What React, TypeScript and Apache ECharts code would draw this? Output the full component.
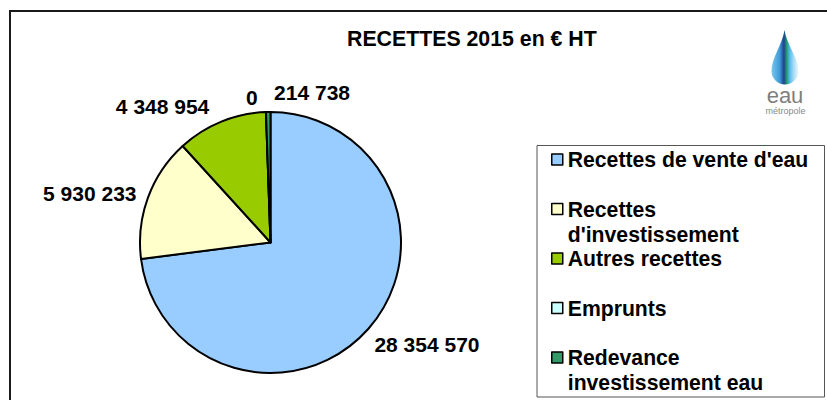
import React, { useEffect, useRef } from "react";
import * as echarts from "echarts";

const categories = [
  "Recettes de vente d'eau",
  "Recettes d'investissement",
  "Autres recettes",
  "Emprunts",
  "Redevance investissement eau",
];
const values = [28354570, 5930233, 4348954, 0, 214738];
const legendText = [
  "Recettes de vente d'eau",
  "Recettes\nd'investissement",
  "Autres recettes",
  "Emprunts",
  "Redevance\ninvestissement eau",
];
const colors = ["#99CCFF", "#FFFFCC", "#99CC00", "#CCFFFF", "#339966"];
const titleText = "RECETTES 2015 en € HT";

// label nudges (style only), per slice index
const labelNudge: { dx: number; dy: number; align?: string }[] = [
  { dx: -5, dy: 10 },
  { dx: 1, dy: -1 },
  { dx: -4, dy: -8 },
  { dx: -3, dy: -7 },
  { dx: 11, dy: -12, align: "left" },
];

const FONT = "'Liberation Sans', Arial, sans-serif";
const FS = 21;

const fmt = (v: number) => String(v).replace(/\B(?=(\d{3})+(?!\d))/g, " ");

const DROP =
  "M13 0 C 15 14, 27 28, 27 41 A 13.5 13.5 0 0 1 0 41 C 0 28, 11 14, 13 0 Z";

export default function App() {
  const ref = useRef<HTMLDivElement>(null);
  useEffect(() => {
    if (!ref.current) return;
    try {
      echarts.graphic.registerShape("logo", echarts.graphic.extendPath(DROP, {}) as any);
    } catch (e) {}
    const chart = echarts.init(ref.current, null, { renderer: "svg" });
    chart.setOption({
      animation: false,
      backgroundColor: "#ffffff",
      title: {
        text: titleText,
        left: 347,
        top: 28,
        padding: 0,
        textStyle: { fontFamily: FONT, fontWeight: "bold", fontSize: 21.3, color: "#000" },
      },
      legend: {
        orient: "vertical",
        left: 551,
        top: 122,
        padding: 0,
        itemGap: -25.5,
        itemWidth: 11,
        itemHeight: 11,
        icon: "rect",
        selectedMode: false,
        itemStyle: { borderColor: "#000", borderWidth: 1.5 },
        data: categories,
        formatter: (name: string) => {
          const t = legendText[categories.indexOf(name)];
          return t.indexOf("\n") >= 0 ? " \n" + t : " \n" + t + "\n ";
        },
        textStyle: {
          fontFamily: FONT,
          fontWeight: "bold",
          fontSize: 21.2,
          color: "#000",
          lineHeight: 25,
        },
      },
      graphic: [
        {
          type: "rect",
          shape: { x: 10, y: 11, width: 830, height: 400 },
          style: { fill: "none", stroke: "#1a1a1a", lineWidth: 2 },
          silent: true,
        },
        {
          type: "rect",
          shape: { x: 537, y: 145.5, width: 287.5, height: 251.5 },
          style: { fill: "none", stroke: "#555", lineWidth: 1 },
          silent: true,
        },
        {
          type: "logo",
          x: 771.5,
          y: 30,
          scaleX: 1,
          scaleY: 1,
          style: {
            fill: new echarts.graphic.LinearGradient(0, 0, 1, 0, [
              { offset: 0, color: "#79c7ec" },
              { offset: 0.3, color: "#3f9bd8" },
              { offset: 0.46, color: "#23408f" },
              { offset: 0.56, color: "#1f9a6a" },
              { offset: 0.66, color: "#4fb7e6" },
              { offset: 0.82, color: "#a8dcf4" },
              { offset: 1, color: "#eef8fd" },
            ]),
          },
          silent: true,
        },
        {
          type: "text",
          x: 785,
          y: 95,
          style: {
            text: "eau",
            fontFamily: FONT,
            fontSize: 22,
            fill: "#7f7f7f",
            align: "center",
            verticalAlign: "middle",
          },
          silent: true,
        },
        {
          type: "text",
          x: 785.5,
          y: 111,
          style: {
            text: "métropole",
            fontFamily: FONT,
            fontSize: 9,
            fill: "#8a8a8a",
            align: "center",
            verticalAlign: "middle",
          },
          silent: true,
        },
      ],
      series: [
        {
          type: "pie",
          center: [270.5, 242.5],
          radius: 130.5,
          startAngle: 90,
          clockwise: true,
          avoidLabelOverlap: false,
          emphasis: { disabled: true },
          itemStyle: { borderColor: "#000", borderWidth: 2 },
          label: {
            show: true,
            position: "outside",
            formatter: (p: any) => fmt(p.value),
            fontFamily: FONT,
            fontWeight: "bold",
            fontSize: FS,
            color: "#000",
          },
          labelLine: { show: false, length: 8, length2: 0 },
          labelLayout: (p: any) => {
            const n = labelNudge[p.dataIndex] || { dx: 0, dy: 0 };
            const o: any = { dx: n.dx, dy: n.dy, hideOverlap: false, moveOverlap: null };
            if (n.align) o.align = n.align;
            return o;
          },
          data: categories.map((name, i) => ({
            name,
            value: values[i],
            itemStyle: { color: colors[i] },
          })),
        },
      ],
    });
    return () => chart.dispose();
  }, []);
  return (
    <div
      ref={ref}
      style={{ position: "fixed", left: 0, top: 0, width: 827, height: 400 }}
    />
  );
}
